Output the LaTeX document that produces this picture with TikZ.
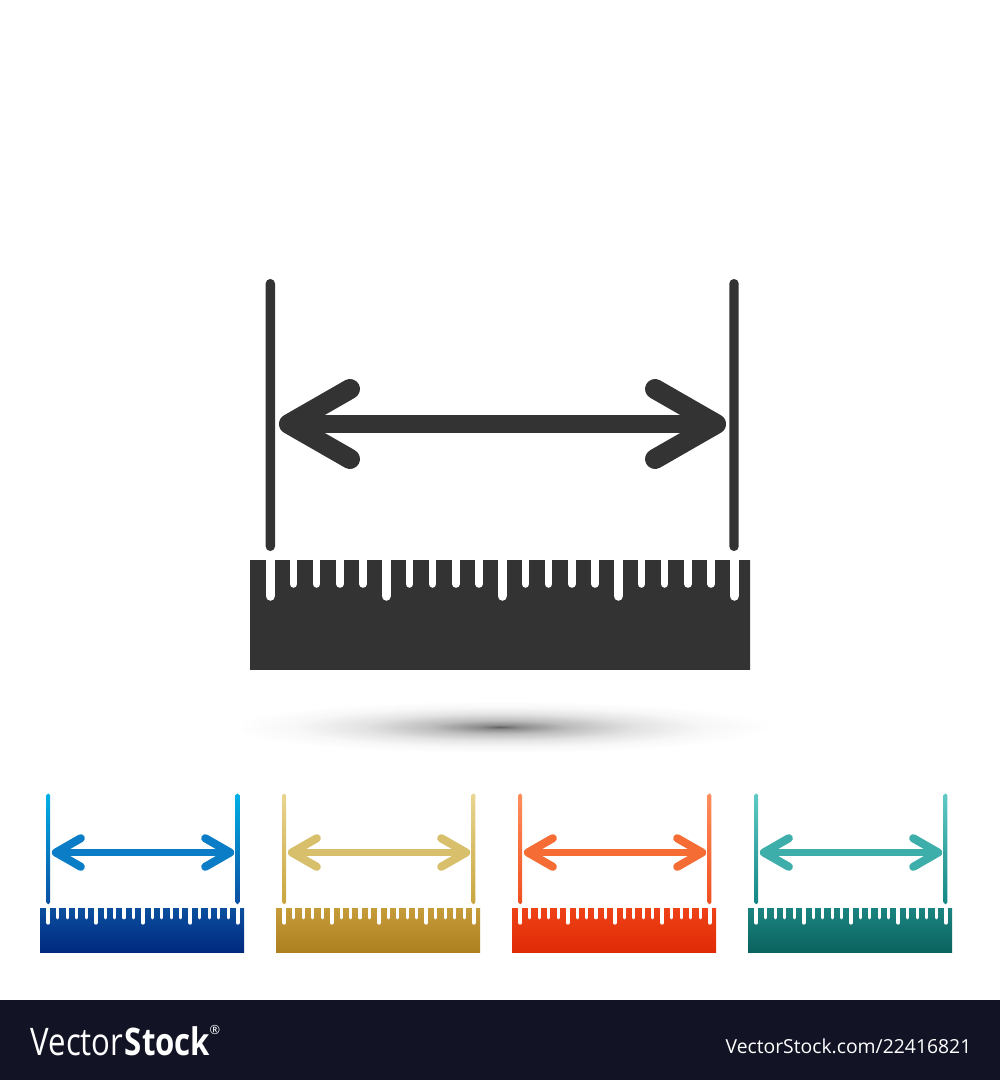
\documentclass[tikz,border=0pt]{standalone}
\usepackage{fontspec}
\setmainfont{Open Sans}
\newfontfamily\brandfont[FakeStretch=.82]{Open Sans}
\usetikzlibrary{positioning}
\definecolor{barDark}{HTML}{121426}
\definecolor{darkArrow}{HTML}{333333}
\definecolor{darkLineTop}{HTML}{333333}
\definecolor{darkLineEnd}{HTML}{333333}
\definecolor{darkRulerTop}{HTML}{333333}
\definecolor{darkRulerEnd}{HTML}{333333}
\definecolor{blueArrow}{HTML}{0A7DC6}
\definecolor{blueLineTop}{HTML}{00B0E6}
\definecolor{blueLineEnd}{HTML}{0B4EA2}
\definecolor{blueRulerTop}{HTML}{0B4F9E}
\definecolor{blueRulerEnd}{HTML}{00287F}
\definecolor{goldArrow}{HTML}{D8BF6C}
\definecolor{goldLineTop}{HTML}{E8D591}
\definecolor{goldLineEnd}{HTML}{C9A53F}
\definecolor{goldRulerTop}{HTML}{C69B3A}
\definecolor{goldRulerEnd}{HTML}{AD801F}
\definecolor{redArrow}{HTML}{F56C35}
\definecolor{redLineTop}{HTML}{FF8F5E}
\definecolor{redLineEnd}{HTML}{F04E1F}
\definecolor{redRulerTop}{HTML}{EE4217}
\definecolor{redRulerEnd}{HTML}{E02A06}
\definecolor{tealArrow}{HTML}{3EAEAB}
\definecolor{tealLineTop}{HTML}{5FCAC6}
\definecolor{tealLineEnd}{HTML}{138683}
\definecolor{tealRulerTop}{HTML}{1B8480}
\definecolor{tealRulerEnd}{HTML}{0A625E}
\pgfdeclareradialshading{floorshadow}{\pgfpoint{0bp}{0bp}}{
	color(0bp)=(black!62);
	color(1.5bp)=(black!45);
	color(5bp)=(black!26);
	color(10bp)=(black!11);
	color(15bp)=(black!3);
	color(20bp)=(white);
	color(50bp)=(white)
}
\tikzset{
	brandtext/.style = {
		text = white,
		inner sep = 0pt
	},
	arrowstroke/.style = {
		line cap = round,
		line join = round,
		line width = {.18cm*\iconsize}
	},
	arrowbarb/.style = {
		line cap = round,
		line join = round,
		line width = {.2cm*\iconsize}
	}
}
% #1 left, #2 top, #3 size, #4 colour set
\newcommand{\rulericon}[4]{
	\def\iconsize{#3}
	\begin{scope}[shift={(#1,#2)},scale=#3,shift={(-250,-560)}]
		\shade[top color=#4RulerTop, bottom color=#4RulerEnd] (250,560) rectangle (750,669);
		\foreach \ticknum in {0,...,20}{
			\pgfmathsetmacro{\tickx}{270.3+23.2*\ticknum}
			\pgfmathtruncatemacro{\tickrest}{mod(\ticknum,5)}
			\ifnum\tickrest=0
				\draw[white, line cap=round, line width={.095cm*\iconsize}] (\tickx,560) -- (\tickx,596);
			\else
				\draw[white, line cap=round, line width={.075cm*\iconsize}] (\tickx,560) -- (\tickx,584);
			\fi
		}
		\foreach \linex in {270.3,734}{
			\shade[top color=#4LineTop, bottom color=#4LineEnd, rounded corners={.046cm*\iconsize}] (\linex-4.7,279) rectangle (\linex+4.7,551);
		}
		\draw[#4Arrow, arrowstroke] (290,424) -- (716,424);
		\draw[#4Arrow, arrowbarb] (350,389) -- (289,424) -- (350,459);
		\draw[#4Arrow, arrowbarb] (655,389) -- (716,424) -- (655,459);
	\end{scope}
}

\begin{document}
\begin{tikzpicture}[x=.01cm,y=-.01cm]
\useasboundingbox (0,0) rectangle (1000,1080);

% floor shadow
\shade[shading=floorshadow] (500,727) ellipse [x radius=340, y radius=33];

\rulericon{250}{560}{1}{dark}
\rulericon{40}{908}{.408}{blue}
\rulericon{276}{908}{.408}{gold}
\rulericon{512}{908}{.408}{red}
\rulericon{748}{908}{.408}{teal}

% footer bar
\fill[barDark] (0,1000) rectangle (1000,1080);
\node (brandlight) [brandtext, anchor=base west, font=\brandfont\fontsize{10.8}{12}\selectfont] at (30,1055) {Vector};
\node (brandbold) [brandtext, anchor=base west, font=\brandfont\fontsize{10.8}{12}\selectfont\bfseries] at (brandlight.base east) {Stock};
\node (brandmark) [brandtext, anchor=north west, font=\fontsize{3.6}{5}\selectfont] at (209,1025) {®};
\node (stockid) [brandtext, anchor=base east, font=\fontsize{5.5}{7}\selectfont] at (972,1053) {VectorStock.com/22416821};
\end{tikzpicture}
\end{document}
